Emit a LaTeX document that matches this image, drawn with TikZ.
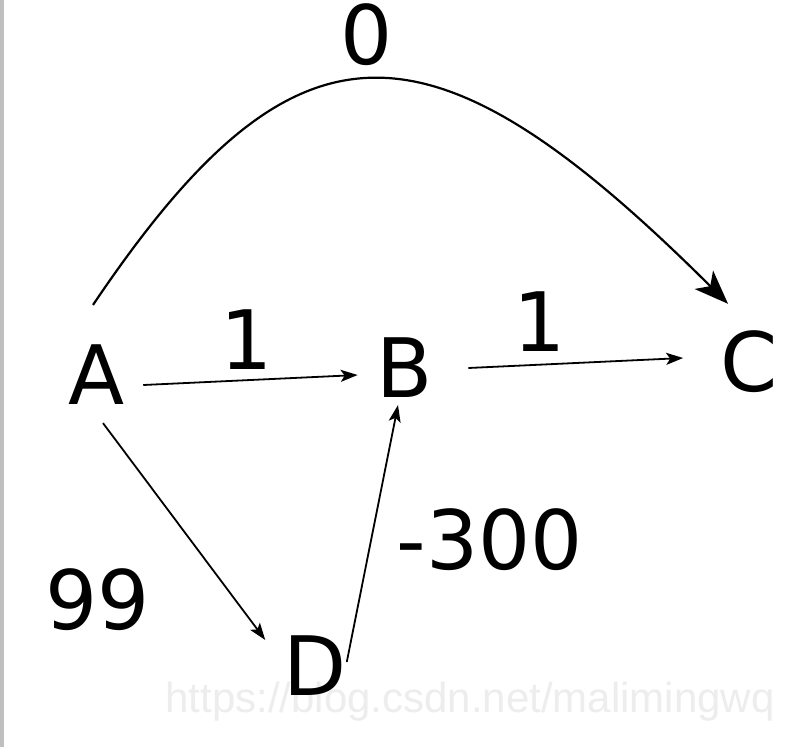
\documentclass[tikz,border=0pt]{standalone}
\usepackage{fontspec}
\setmainfont{DejaVu Sans}
\newfontfamily\wmfont{Liberation Sans}
\usetikzlibrary{arrows.meta}
\tikzset{
  vert/.style={inner sep=0pt, font=\fontsize{82}{98}\selectfont},
  wlabel/.style={inner sep=0pt, font=\fontsize{82}{98}\selectfont},
  edgeline/.style={line width=1.8pt, -{Stealth[length=17pt,width=12pt,inset=4pt]}},
  bigedge/.style={line width=2.2pt, -{Stealth[length=34pt,width=26pt,inset=9pt]}},
}
\begin{document}
\begin{tikzpicture}[x=1pt,y=-1pt]
\useasboundingbox (0,0) rectangle (800,747);
\fill[white] (0,0) rectangle (800,747);
\fill[gray!50] (0,0) rectangle (4,747);
% watermark (behind everything)
\node[inner sep=0pt, anchor=base, text=gray!14, font=\wmfont\fontsize{42}{50}\selectfont] (wm) at (470,712) {https://blog.csdn.net/malimingwq};
% vertices
\node[vert] (A) at (97,375) {A};
\node[vert] (B) at (405,368) {B};
\node[vert] (C) at (749,362) {C};
\node[vert] (D) at (315,666) {D};
% weights
\node[wlabel] (w0) at (367,35) {0};
\node[wlabel] (wAB) at (247,340) {1};
\node[wlabel] (wBC) at (540,322) {1};
\node[wlabel] (w99) at (98,600) {99};
\node[wlabel] (w300) at (490,540) {-300};
% edges
\draw[edgeline] ([xshift=18pt,yshift=-10pt]A.east) -- ([xshift=-19pt,yshift=-7pt]B.west);
\draw[edgeline] ([xshift=35pt]B.east) -- ([xshift=-37pt,yshift=4pt]C.west);
\draw[edgeline] ([xshift=6pt,yshift=-18pt]A.south) -- ([xshift=-18pt,yshift=-4pt]D.north west);
\draw[edgeline] ([yshift=4pt]D.east) -- ([xshift=-7pt,yshift=-7pt]B.south);
\draw[bigedge] ([xshift=-4pt,yshift=40pt]A.north) .. controls (295,5) and (428,5) .. ([xshift=-21pt,yshift=27pt]C.north);
\end{tikzpicture}
\end{document}
